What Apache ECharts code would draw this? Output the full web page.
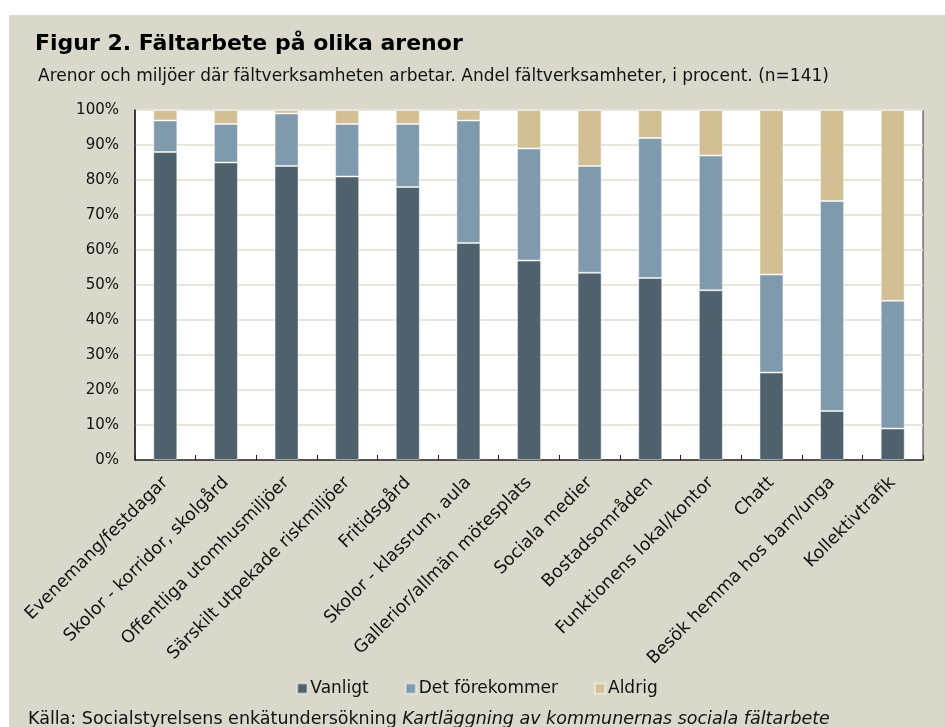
<!DOCTYPE html>
<html>
<head>
<meta charset="utf-8">
<script src="https://cdn.jsdelivr.net/npm/echarts@6/dist/echarts.min.js"></script>
<style>
  html, body { margin: 0; padding: 0; background: #ffffff; }
  #main { position: absolute; left: 9px; top: 15px; width: 936px; height: 712px; }
</style>
</head>
<body>
<div id="main"></div>
<script>
// Arenor (kategorier) och andelar i procent
var categories = [
    'Evenemang/festdagar',
    'Skolor - korridor, skolgård',
    'Offentliga utomhusmiljöer',
    'Särskilt utpekade riskmiljöer',
    'Fritidsgård',
    'Skolor - klassrum, aula',
    'Gallerior/allmän mötesplats',
    'Sociala medier',
    'Bostadsområden',
    'Funktionens lokal/kontor',
    'Chatt',
    'Besök hemma hos barn/unga',
    'Kollektivtrafik'
];
var vanligt = [88, 85, 84, 81, 78, 62, 57, 53.5, 52, 48.5, 25, 14, 9];
var forekommer = [9, 11, 15, 15, 18, 35, 32, 30.5, 40, 38.5, 28, 60, 36.5];
var aldrig = [3, 4, 1, 4, 4, 3, 11, 16, 8, 13, 47, 26, 54.5];

var font = 'DejaVu Sans';

var myChart = echarts.init(document.getElementById('main'));

var barStyle = function (color) {
    return {
        color: color,
        borderColor: 'rgba(255,255,255,0.45)',
        borderWidth: 1
    };
};

option = {
    backgroundColor: '#dad8cb',
    animation: false,
    textStyle: { fontFamily: font },
    title: [
        {
            text: 'Figur 2. Fältarbete på olika arenor',
            left: 21,
            top: 13,
            textStyle: {
                fontFamily: font,
                fontWeight: 'bold',
                fontSize: 22,
                color: '#000'
            }
        },
        {
            text: 'Arenor och miljöer där fältverksamheten arbetar. Andel fältverksamheter, i procent. (n=141)',
            left: 24,
            top: 48,
            textStyle: {
                fontFamily: font,
                fontWeight: 'normal',
                fontSize: 17,
                color: '#111'
            }
        },
        {
            text: '{n|Källa: Socialstyrelsens enkätundersökning }{i|Kartläggning av kommunernas sociala fältarbete}',
            left: 14,
            top: 690,
            textStyle: {
                fontWeight: 'normal',
                rich: {
                    n: { fontFamily: font, fontSize: 17.5, fontWeight: 'normal', color: '#111' },
                    i: { fontFamily: font, fontSize: 17.5, fontWeight: 'normal', fontStyle: 'italic', color: '#111' }
                }
            }
        }
    ],
    legend: {
        data: ['Vanligt', 'Det förekommer', 'Aldrig'],
        left: 'center',
        top: 660,
        itemWidth: 10,
        itemHeight: 10,
        itemGap: 36,
        icon: 'rect',
        textStyle: { fontFamily: font, fontSize: 17, color: '#111', padding: [0, 0, 0, -2] }
    },
    grid: {
        left: 126,
        right: 22,
        top: 95,
        bottom: 267,
        show: true,
        backgroundColor: '#ffffff',
        borderColor: '#333',
        borderWidth: 1
    },
    xAxis: {
        type: 'category',
        data: categories,
        axisLine: { lineStyle: { color: '#222', width: 1.5 } },
        axisTick: { show: true, inside: true, length: 5, lineStyle: { color: '#222' } },
        axisLabel: {
            rotate: 45,
            interval: 0,
            margin: 20,
            fontSize: 17.5,
            color: '#111',
            fontFamily: font
        }
    },
    yAxis: {
        type: 'value',
        min: 0,
        max: 100,
        interval: 10,
        axisLine: { show: true, lineStyle: { color: '#222', width: 1.5 } },
        axisTick: { show: false },
        axisLabel: {
            formatter: '{value}%',
            fontSize: 15,
            margin: 16,
            color: '#111',
            fontFamily: font
        },
        splitLine: { lineStyle: { color: '#e8e5dd', width: 2 } }
    },
    series: [
        {
            name: 'Vanligt',
            type: 'bar',
            stack: 'total',
            barWidth: 24,
            data: vanligt,
            itemStyle: barStyle('#4f616d')
        },
        {
            name: 'Det förekommer',
            type: 'bar',
            stack: 'total',
            barWidth: 24,
            data: forekommer,
            itemStyle: barStyle('#7f9aac')
        },
        {
            name: 'Aldrig',
            type: 'bar',
            stack: 'total',
            barWidth: 24,
            data: aldrig,
            itemStyle: barStyle('#d3bf94')
        }
    ]
};

myChart.setOption(option);
</script>
</body>
</html>
